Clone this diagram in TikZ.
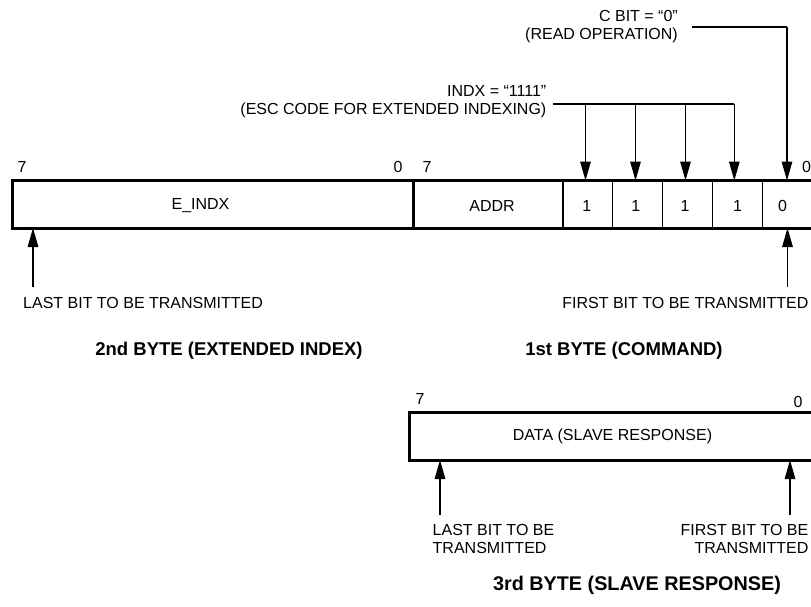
\documentclass[tikz,border=0pt]{standalone}
\usepackage{fontspec}
\setmainfont{Liberation Sans}
\usetikzlibrary{arrows.meta}
\begin{document}
\begin{tikzpicture}[x=1pt,y=-1pt,
  lbl/.style={font=\fontsize{16}{17.5}\selectfont, inner sep=0pt},
  ttl/.style={font=\fontsize{18.5}{20}\selectfont\bfseries, inner sep=0pt},
  cell/.style={draw, line width=1.2pt, inner sep=0pt, outer sep=0pt, anchor=north west, minimum height=47.5pt},
  frame/.style={line width=3pt},
  wire/.style={line width=1.4pt},
  arr/.style={line width=1.4pt, -{Triangle[length=19pt,width=10.5pt]}}]
\useasboundingbox (0,0) rectangle (811,606);

% ---- 1st/2nd byte row
\node[cell, minimum width=401pt] (eindx) at (12,180.5) {};
\node[cell, minimum width=150pt] (addr) at (413,180.5) {};
\node[cell, minimum width=49.8pt] (b3) at (563,180.5) {};
\node[cell, minimum width=49.8pt] (b2) at (612.8,180.5) {};
\node[cell, minimum width=49.8pt] (b1) at (662.6,180.5) {};
\node[cell, minimum width=49.8pt] (b0) at (712.4,180.5) {};
\node[cell, minimum width=53.8pt] (cbit) at (762.2,180.5) {};
\draw[frame] (eindx.north west) -- (cbit.north east) -- (cbit.south east) -- (eindx.south west) -- cycle;
\draw[frame] (addr.north west) -- (addr.south west);

\node[lbl] (teindx) at (200.5,206) {E\_INDX};
\node[lbl] (taddr) at (492,206) {ADDR};
\node[lbl] (t3) at (586.7,206) {1};
\node[lbl] (t2) at (635.7,206) {1};
\node[lbl] (t1) at (685,206) {1};
\node[lbl] (t0) at (737.5,206) {1};
\node[lbl] (tc) at (782.5,206) {0};

\node[lbl] (n7a) at (22,167) {7};
\node[lbl] (n0a) at (398,167) {0};
\node[lbl] (n7b) at (427,167) {7};
\node[lbl] (n0b) at (806.5,167) {0};

% ---- C bit annotation
\node[lbl, anchor=east, align=right] (cbittxt) at (678,26.7) {C BIT = “0”\\(READ OPERATION)};
\coordinate (cw) at (692,27);
\coordinate (ce) at (787,27);
\draw[wire] (cw) -- (ce);
\draw[arr] (ce) -- (ce |- cbit.north);

% ---- INDX annotation
\node[lbl, anchor=east, align=right] (indxtxt) at (546.5,101.7) {INDX = “1111”\\(ESC CODE FOR EXTENDED INDEXING)};
\coordinate (w0) at (553,104);
\coordinate (w1) at (585.5,104);
\coordinate (w2) at (635.5,104);
\coordinate (w3) at (685.5,104);
\coordinate (w4) at (734.3,104);
\draw[wire] (w0) -- (w4);
\draw[arr] (w1) -- (w1 |- b3.north);
\draw[arr] (w2) -- (w2 |- b2.north);
\draw[arr] (w3) -- (w3 |- b1.north);
\draw[arr] (w4) -- (w4 |- b0.north);

% ---- transmission arrows row 1
\coordinate (u1) at (33,287);
\coordinate (u2) at (787.5,287);
\draw[arr] (u1) -- (u1 |- eindx.south);
\draw[arr] (u2) -- (u2 |- cbit.south);
\node[lbl, anchor=west] (last1) at (23,303) {LAST BIT TO BE TRANSMITTED};
\node[lbl, anchor=east] (first1) at (808.5,303) {FIRST BIT TO BE TRANSMITTED};

\node[ttl] (title2) at (229,351) {2nd BYTE (EXTENDED INDEX)};
\node[ttl] (title1) at (624,351) {1st BYTE (COMMAND)};

% ---- 3rd byte row
\node[cell, line width=3pt, minimum width=406pt] (data) at (409.5,412.5) {};
\node[lbl] (tdata) at (612.5,436) {DATA (SLAVE RESPONSE)};
\node[lbl] (n7c) at (420,399) {7};
\node[lbl] (n0c) at (798,401.5) {0};

\coordinate (u3) at (440,515);
\coordinate (u4) at (790,515);
\draw[arr] (u3) -- (u3 |- data.south);
\draw[arr] (u4) -- (u4 |- data.south);
\node[lbl, anchor=west, align=left] (last2) at (432.5,539) {LAST BIT TO BE\\TRANSMITTED};
\node[lbl, anchor=east, align=right] (first2) at (808.5,539) {FIRST BIT TO BE\\TRANSMITTED};

\node[ttl, font=\fontsize{19.8}{21}\selectfont\bfseries] (title3) at (637,585) {3rd BYTE (SLAVE RESPONSE)};
\end{tikzpicture}
\end{document}
